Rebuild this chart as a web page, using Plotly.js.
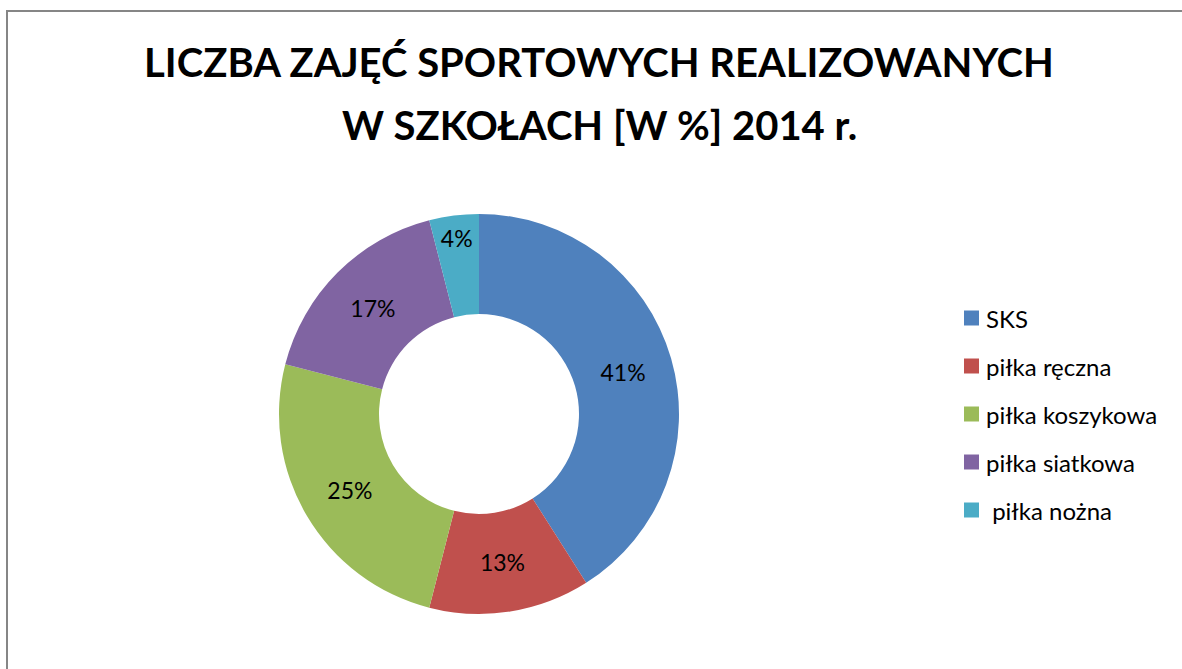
<!DOCTYPE html>
<html>
<head>
<meta charset="utf-8">
<script src="https://cdn.plot.ly/plotly-3.0.1.min.js"></script>
<style>html,body{margin:0;padding:0;background:#fff;}#chart{width:1182px;height:669px;}</style>
</head>
<body>
<div id="chart"></div>
<script>
const titleLines = ["LICZBA ZAJĘĆ SPORTOWYCH REALIZOWANYCH", "W SZKOŁACH [W %] 2014 r."];
const categories = ["SKS", "piłka ręczna", "piłka koszykowa", "piłka siatkowa", " piłka nożna"];
const values = [41, 13, 25, 17, 4];
const colors = ["#4F81BD", "#C0504D", "#9BBB59", "#8064A2", "#4BACC6"];

const W = 1182, H = 669;
const px = x => x / W;
const py = y => (H - y) / H;

const FONT = "Lato, 'Open Sans', sans-serif";

const trace = {
  type: "pie",
  labels: categories,
  values: values,
  marker: {colors: colors, line: {width: 0}},
  hole: 0.5,
  sort: false,
  direction: "clockwise",
  rotation: 0,
  textinfo: "percent",
  texttemplate: "%{percent:.0%}",
  textposition: "inside",
  insidetextorientation: "horizontal",
  textfont: {family: FONT, size: 23, color: "#000"},
  hoverinfo: "label+percent",
  showlegend: false,
  domain: {x: [px(279), px(679)], y: [py(614), py(214)]}
};

const shapes = [{
  type: "rect", xref: "paper", yref: "paper",
  x0: px(7), x1: 1.02, y0: -0.02, y1: py(11),
  line: {color: "#868686", width: 2}, fillcolor: "rgba(0,0,0,0)"
}];
const annotations = [{
  xref: "paper", yref: "paper", x: px(599), y: py(125),
  xanchor: "center", yanchor: "middle", showarrow: false,
  text: "<b>" + titleLines[1] + "</b>",
  font: {family: FONT, size: 40, color: "#000"}
}];
const legendY = [318, 366, 414, 462, 510];
categories.forEach((c, i) => {
  shapes.push({
    type: "rect", xref: "paper", yref: "paper",
    x0: px(964), x1: px(979), y0: py(legendY[i] + 7.5), y1: py(legendY[i] - 7.5),
    fillcolor: colors[i], line: {width: 0}
  });
  annotations.push({
    xref: "paper", yref: "paper", x: px(984), y: py(legendY[i]),
    xanchor: "left", yanchor: "middle", showarrow: false,
    text: c.replace(/^ /, "&nbsp;"),
    font: {family: FONT, size: 24, color: "#000"}
  });
});

const layout = {
  width: W, height: H,
  margin: {l: 0, r: 0, t: 0, b: 0},
  paper_bgcolor: "#fff",
  showlegend: false,
  title: {
    text: "<b>" + titleLines[0] + "</b>",
    x: px(599), xanchor: "center", xref: "paper",
    y: py(63), yanchor: "middle", yref: "paper",
    font: {family: FONT, size: 40, color: "#000"}
  },
  shapes: shapes,
  annotations: annotations
};

Plotly.newPlot("chart", [trace], layout, {displayModeBar: false, staticPlot: false});
</script>
</body>
</html>
